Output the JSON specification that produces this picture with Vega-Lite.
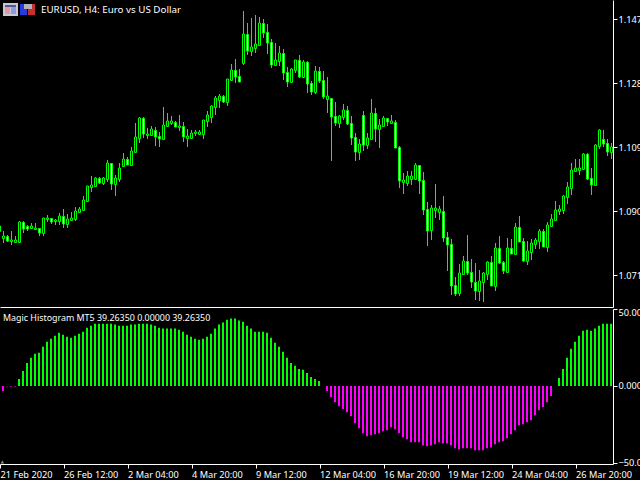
{"$schema":"https://vega.github.io/schema/vega-lite/v6.json","background":"#000000","padding":{"left":-1,"top":0,"right":0,"bottom":0},"autosize":{"type":"pad"},"spacing":2,"bounds":"flush","config":{"view":{"stroke":null},"font":"Noto Sans"},
"datasets":{"bars":[
{"i":-1,"o":1.0842,"h":1.0857,"l":1.0842,"c":1.0857,"v":0},
{"i":0,"o":1.0821,"h":1.0842,"l":1.0806,"c":1.0827,"v":-3.3},
{"i":1,"o":1.0827,"h":1.083,"l":1.0809,"c":1.0812,"v":-0.1},
{"i":2,"o":1.0812,"h":1.0842,"l":1.08,"c":1.0815,"v":-0.3},
{"i":3,"o":1.0809,"h":1.0827,"l":1.0809,"c":1.0815,"v":-0.3},
{"i":4,"o":1.0809,"h":1.0872,"l":1.0809,"c":1.0869,"v":4.6},
{"i":5,"o":1.0869,"h":1.0872,"l":1.0836,"c":1.0848,"v":9.8},
{"i":6,"o":1.0857,"h":1.086,"l":1.0842,"c":1.0848,"v":15},
{"i":7,"o":1.0851,"h":1.0866,"l":1.0848,"c":1.0857,"v":18.3},
{"i":8,"o":1.0848,"h":1.0866,"l":1.0845,"c":1.0851,"v":20.9},
{"i":9,"o":1.0851,"h":1.0851,"l":1.0827,"c":1.0836,"v":21.6},
{"i":10,"o":1.0836,"h":1.0881,"l":1.0827,"c":1.0881,"v":25.5},
{"i":11,"o":1.0878,"h":1.089,"l":1.0869,"c":1.0881,"v":28.8},
{"i":12,"o":1.0881,"h":1.0881,"l":1.0863,"c":1.0869,"v":30.7},
{"i":13,"o":1.0872,"h":1.0878,"l":1.086,"c":1.0875,"v":32.7},
{"i":14,"o":1.0872,"h":1.0896,"l":1.086,"c":1.0887,"v":34.6},
{"i":15,"o":1.0887,"h":1.0908,"l":1.0851,"c":1.0863,"v":33.3},
{"i":16,"o":1.0863,"h":1.0893,"l":1.0851,"c":1.0878,"v":32},
{"i":17,"o":1.0875,"h":1.0899,"l":1.0872,"c":1.0881,"v":31.4},
{"i":18,"o":1.0878,"h":1.0914,"l":1.0872,"c":1.0902,"v":32.7},
{"i":19,"o":1.0899,"h":1.0914,"l":1.0896,"c":1.0908,"v":34},
{"i":20,"o":1.0905,"h":1.0947,"l":1.0902,"c":1.0935,"v":35.3},
{"i":21,"o":1.0932,"h":1.0977,"l":1.0929,"c":1.0977,"v":37.9},
{"i":22,"o":1.0974,"h":1.1007,"l":1.0959,"c":1.098,"v":39.2},
{"i":23,"o":1.0977,"h":1.1004,"l":1.0974,"c":1.1001,"v":40.5},
{"i":24,"o":1.1001,"h":1.1004,"l":1.0983,"c":1.0986,"v":40.5},
{"i":25,"o":1.0986,"h":1.1004,"l":1.098,"c":1.1001,"v":40.5},
{"i":26,"o":1.0998,"h":1.1055,"l":1.0989,"c":1.1046,"v":40.5},
{"i":27,"o":1.1046,"h":1.1046,"l":1.0965,"c":1.0983,"v":40.5},
{"i":28,"o":1.0983,"h":1.101,"l":1.0947,"c":1.1001,"v":39.9},
{"i":29,"o":1.0998,"h":1.1046,"l":1.0989,"c":1.1031,"v":39.2},
{"i":30,"o":1.1037,"h":1.1076,"l":1.1034,"c":1.1058,"v":39.2},
{"i":31,"o":1.1058,"h":1.1064,"l":1.104,"c":1.104,"v":39.2},
{"i":32,"o":1.104,"h":1.1094,"l":1.1037,"c":1.1082,"v":39.9},
{"i":33,"o":1.1079,"h":1.1166,"l":1.1076,"c":1.1124,"v":39.9},
{"i":34,"o":1.1121,"h":1.1184,"l":1.1106,"c":1.1181,"v":40.5},
{"i":35,"o":1.1181,"h":1.1184,"l":1.1121,"c":1.1133,"v":40.5},
{"i":36,"o":1.113,"h":1.1151,"l":1.1118,"c":1.1133,"v":40.5},
{"i":37,"o":1.113,"h":1.1157,"l":1.1127,"c":1.1148,"v":39.9},
{"i":38,"o":1.1145,"h":1.1154,"l":1.1097,"c":1.1124,"v":39.2},
{"i":39,"o":1.1127,"h":1.1139,"l":1.1094,"c":1.1118,"v":37.9},
{"i":40,"o":1.1118,"h":1.1214,"l":1.1115,"c":1.116,"v":37.3},
{"i":41,"o":1.1157,"h":1.1196,"l":1.1157,"c":1.1172,"v":37.3},
{"i":42,"o":1.1166,"h":1.1187,"l":1.116,"c":1.1172,"v":37.3},
{"i":43,"o":1.1169,"h":1.1172,"l":1.1154,"c":1.1154,"v":37.3},
{"i":44,"o":1.1154,"h":1.119,"l":1.1142,"c":1.1157,"v":36.6},
{"i":45,"o":1.1157,"h":1.1169,"l":1.1109,"c":1.1124,"v":35.3},
{"i":46,"o":1.1121,"h":1.1148,"l":1.1094,"c":1.1127,"v":33.3},
{"i":47,"o":1.1121,"h":1.1145,"l":1.1121,"c":1.1136,"v":32},
{"i":48,"o":1.1136,"h":1.1145,"l":1.1127,"c":1.1139,"v":30.7},
{"i":49,"o":1.1133,"h":1.1145,"l":1.1133,"c":1.1139,"v":30},
{"i":50,"o":1.1133,"h":1.1175,"l":1.1118,"c":1.1175,"v":30.7},
{"i":51,"o":1.1172,"h":1.1202,"l":1.1154,"c":1.119,"v":32},
{"i":52,"o":1.1184,"h":1.122,"l":1.1166,"c":1.1217,"v":34},
{"i":53,"o":1.1214,"h":1.1247,"l":1.119,"c":1.1241,"v":37.3},
{"i":54,"o":1.1235,"h":1.1253,"l":1.1211,"c":1.1247,"v":39.9},
{"i":55,"o":1.1247,"h":1.125,"l":1.1226,"c":1.1229,"v":41.2},
{"i":56,"o":1.1229,"h":1.1298,"l":1.1217,"c":1.1298,"v":43.1},
{"i":57,"o":1.1295,"h":1.1343,"l":1.1292,"c":1.1325,"v":43.8},
{"i":58,"o":1.1325,"h":1.1358,"l":1.1286,"c":1.1304,"v":43.8},
{"i":59,"o":1.1307,"h":1.1328,"l":1.1289,"c":1.1289,"v":42.5},
{"i":60,"o":1.1346,"h":1.1502,"l":1.134,"c":1.1433,"v":41.8},
{"i":61,"o":1.1433,"h":1.1466,"l":1.137,"c":1.1382,"v":39.2},
{"i":62,"o":1.1382,"h":1.1481,"l":1.1367,"c":1.1394,"v":37.3},
{"i":63,"o":1.1391,"h":1.149,"l":1.1376,"c":1.1403,"v":35.3},
{"i":64,"o":1.14,"h":1.1484,"l":1.14,"c":1.1466,"v":35.3},
{"i":65,"o":1.1466,"h":1.1478,"l":1.1421,"c":1.1436,"v":35.3},
{"i":66,"o":1.1439,"h":1.1463,"l":1.1373,"c":1.1406,"v":34.6},
{"i":67,"o":1.1409,"h":1.1418,"l":1.1331,"c":1.134,"v":31.4},
{"i":68,"o":1.134,"h":1.1406,"l":1.1337,"c":1.1355,"v":28.1},
{"i":69,"o":1.1352,"h":1.1397,"l":1.1337,"c":1.1376,"v":25.5},
{"i":70,"o":1.1376,"h":1.1388,"l":1.1295,"c":1.1316,"v":22.2},
{"i":71,"o":1.1319,"h":1.1334,"l":1.1274,"c":1.1289,"v":18.3},
{"i":72,"o":1.1289,"h":1.1331,"l":1.1286,"c":1.1328,"v":15},
{"i":73,"o":1.1325,"h":1.1355,"l":1.1316,"c":1.1355,"v":13.1},
{"i":74,"o":1.1355,"h":1.137,"l":1.1301,"c":1.1304,"v":11.1},
{"i":75,"o":1.1304,"h":1.1355,"l":1.1304,"c":1.1349,"v":10.5},
{"i":76,"o":1.1349,"h":1.1352,"l":1.1256,"c":1.1283,"v":8.5},
{"i":77,"o":1.1286,"h":1.1292,"l":1.125,"c":1.1259,"v":5.9},
{"i":78,"o":1.1259,"h":1.1337,"l":1.1253,"c":1.1322,"v":4.6},
{"i":79,"o":1.1322,"h":1.1334,"l":1.1286,"c":1.1292,"v":3.3},
{"i":80,"o":1.1295,"h":1.1322,"l":1.1238,"c":1.1244,"v":0},
{"i":81,"o":1.1238,"h":1.1304,"l":1.1196,"c":1.1247,"v":-3.3},
{"i":82,"o":1.1241,"h":1.1241,"l":1.1052,"c":1.1184,"v":-7.2},
{"i":83,"o":1.1187,"h":1.1229,"l":1.1157,"c":1.1166,"v":-10.5},
{"i":84,"o":1.1166,"h":1.119,"l":1.1151,"c":1.1187,"v":-13.1},
{"i":85,"o":1.1184,"h":1.1223,"l":1.1175,"c":1.1205,"v":-15},
{"i":86,"o":1.1205,"h":1.1217,"l":1.116,"c":1.1163,"v":-17},
{"i":87,"o":1.1166,"h":1.1187,"l":1.11,"c":1.1121,"v":-19.6},
{"i":88,"o":1.1124,"h":1.1136,"l":1.1052,"c":1.1079,"v":-24.2},
{"i":89,"o":1.1079,"h":1.1118,"l":1.1055,"c":1.1103,"v":-27.5},
{"i":90,"o":1.119,"h":1.1202,"l":1.1082,"c":1.11,"v":-30.7},
{"i":91,"o":1.11,"h":1.1136,"l":1.1088,"c":1.1121,"v":-32.7},
{"i":92,"o":1.1118,"h":1.1238,"l":1.1115,"c":1.1196,"v":-32},
{"i":93,"o":1.1196,"h":1.1211,"l":1.1109,"c":1.1148,"v":-31.4},
{"i":94,"o":1.1148,"h":1.1178,"l":1.1091,"c":1.116,"v":-30.7},
{"i":95,"o":1.1157,"h":1.1187,"l":1.1157,"c":1.1181,"v":-29.4},
{"i":96,"o":1.1181,"h":1.1181,"l":1.1157,"c":1.1169,"v":-28.8},
{"i":97,"o":1.1166,"h":1.119,"l":1.1163,"c":1.1172,"v":-26.8},
{"i":98,"o":1.1169,"h":1.1175,"l":1.1091,"c":1.1091,"v":-28.1},
{"i":99,"o":1.1094,"h":1.1097,"l":1.0971,"c":1.0992,"v":-30.7},
{"i":100,"o":1.0989,"h":1.1016,"l":1.0953,"c":1.0995,"v":-33.3},
{"i":101,"o":1.0986,"h":1.1022,"l":1.0977,"c":1.1007,"v":-34.6},
{"i":102,"o":1.0998,"h":1.1022,"l":1.098,"c":1.1007,"v":-36.6},
{"i":103,"o":1.0998,"h":1.1046,"l":1.0995,"c":1.104,"v":-36.6},
{"i":104,"o":1.104,"h":1.104,"l":1.0953,"c":1.0992,"v":-36.6},
{"i":105,"o":1.0995,"h":1.1019,"l":1.089,"c":1.0905,"v":-38.6},
{"i":106,"o":1.0908,"h":1.0929,"l":1.0797,"c":1.0842,"v":-39.2},
{"i":107,"o":1.0845,"h":1.092,"l":1.0815,"c":1.0911,"v":-38.6},
{"i":108,"o":1.0905,"h":1.0983,"l":1.0881,"c":1.0911,"v":-37.9},
{"i":109,"o":1.0899,"h":1.0917,"l":1.0875,"c":1.0908,"v":-36.6},
{"i":110,"o":1.0902,"h":1.0947,"l":1.0809,"c":1.0821,"v":-37.3},
{"i":111,"o":1.0824,"h":1.0839,"l":1.0722,"c":1.08,"v":-37.3},
{"i":112,"o":1.0803,"h":1.0818,"l":1.065,"c":1.0677,"v":-38.6},
{"i":113,"o":1.068,"h":1.0704,"l":1.0647,"c":1.0653,"v":-40.5},
{"i":114,"o":1.0656,"h":1.0743,"l":1.0647,"c":1.0716,"v":-41.2},
{"i":115,"o":1.0713,"h":1.0767,"l":1.071,"c":1.0752,"v":-40.5},
{"i":116,"o":1.0752,"h":1.083,"l":1.071,"c":1.0716,"v":-40.5},
{"i":117,"o":1.0719,"h":1.0758,"l":1.0671,"c":1.0689,"v":-40.5},
{"i":118,"o":1.0689,"h":1.0746,"l":1.0635,"c":1.0662,"v":-41.8},
{"i":119,"o":1.0662,"h":1.0725,"l":1.0632,"c":1.0692,"v":-41.8},
{"i":120,"o":1.0689,"h":1.0719,"l":1.0629,"c":1.0716,"v":-41.8},
{"i":121,"o":1.0713,"h":1.0752,"l":1.0695,"c":1.0749,"v":-40.5},
{"i":122,"o":1.0749,"h":1.0767,"l":1.0677,"c":1.0677,"v":-39.9},
{"i":123,"o":1.0677,"h":1.0806,"l":1.0662,"c":1.0791,"v":-37.9},
{"i":124,"o":1.0791,"h":1.0827,"l":1.0743,"c":1.0746,"v":-36.6},
{"i":125,"o":1.0749,"h":1.0752,"l":1.0713,"c":1.0722,"v":-35.9},
{"i":126,"o":1.0719,"h":1.0821,"l":1.0719,"c":1.0791,"v":-34},
{"i":127,"o":1.0791,"h":1.0818,"l":1.0773,"c":1.0773,"v":-31.4},
{"i":128,"o":1.0773,"h":1.0866,"l":1.0773,"c":1.0854,"v":-28.8},
{"i":129,"o":1.0854,"h":1.0887,"l":1.0809,"c":1.0809,"v":-25.5},
{"i":130,"o":1.0812,"h":1.0821,"l":1.0749,"c":1.0752,"v":-24.8},
{"i":131,"o":1.0752,"h":1.0812,"l":1.074,"c":1.0782,"v":-23.5},
{"i":132,"o":1.0779,"h":1.0818,"l":1.0755,"c":1.0806,"v":-22.2},
{"i":133,"o":1.0803,"h":1.0821,"l":1.0788,"c":1.0815,"v":-19},
{"i":134,"o":1.0812,"h":1.0848,"l":1.0788,"c":1.0842,"v":-15.7},
{"i":135,"o":1.0842,"h":1.0848,"l":1.0794,"c":1.0794,"v":-13.7},
{"i":136,"o":1.0794,"h":1.0869,"l":1.0779,"c":1.086,"v":-10.5},
{"i":137,"o":1.0857,"h":1.0893,"l":1.0854,"c":1.0878,"v":-6.5},
{"i":138,"o":1.0875,"h":1.0932,"l":1.0872,"c":1.0905,"v":0},
{"i":139,"o":1.0902,"h":1.092,"l":1.089,"c":1.0908,"v":5.2},
{"i":140,"o":1.0905,"h":1.095,"l":1.0893,"c":1.0947,"v":11.1},
{"i":141,"o":1.0944,"h":1.0989,"l":1.0923,"c":1.0974,"v":18.3},
{"i":142,"o":1.0971,"h":1.1046,"l":1.095,"c":1.1025,"v":24.2},
{"i":143,"o":1.1022,"h":1.1058,"l":1.1019,"c":1.1031,"v":28.8},
{"i":144,"o":1.1025,"h":1.1058,"l":1.101,"c":1.1031,"v":32.7},
{"i":145,"o":1.1028,"h":1.1076,"l":1.1025,"c":1.1073,"v":35.9},
{"i":146,"o":1.1073,"h":1.1076,"l":1.0995,"c":1.0998,"v":36.6},
{"i":147,"o":1.1001,"h":1.1031,"l":1.095,"c":1.098,"v":35.9},
{"i":148,"o":1.098,"h":1.1103,"l":1.0977,"c":1.11,"v":37.3},
{"i":149,"o":1.1097,"h":1.1148,"l":1.1088,"c":1.1145,"v":39.2},
{"i":150,"o":1.1118,"h":1.1145,"l":1.1094,"c":1.1103,"v":40.5},
{"i":151,"o":1.1106,"h":1.1118,"l":1.1067,"c":1.1079,"v":40.5},
{"i":152,"o":1.1079,"h":1.1106,"l":1.1058,"c":1.1094,"v":40.5}
],
"icons":[
{"part":"frame","a":-0.125,"b":3.625,"p":1.1526,"q":1.1487},
{"part":"head","a":0.375,"b":3.125,"p":1.152,"q":1.1514},
{"part":"rowsA","a":0.375,"b":1.625,"p":1.1514,"q":1.1493},
{"part":"rowsB","a":1.875,"b":3.125,"p":1.1514,"q":1.1493},
{"part":"blue","a":4.125,"b":5.875,"p":1.1523,"q":1.149},
{"part":"red","a":6.125,"b":7.875,"p":1.1523,"q":1.149},
{"part":"clip","a":5.125,"b":7.125,"p":1.1523,"q":1.1508}
],
"captions":[{"panel":"price","t":"EURUSD, H4:  Euro vs US Dollar","a":9.375,"p":1.1505},{"panel":"hist","t":"Magic Histogram MT5 39.26350 0.00000 39.26350","a":-0.125,"p":44}],
"shift":[{"a":-0.3,"p":-49.3}]},
"vconcat":[
{"width":613,"height":307,"encoding":{"x":{"field":"i","type":"quantitative","scale":{"domain":[-0.875,152.375],"nice":false,"zero":false,"padding":0},"axis":{"title":null,"labels":false,"ticks":false,"grid":false,"domainColor":"#ffffff"}}},
"layer":[
{"data":{"name":"bars"},"mark":{"type":"rule","stroke":"#00ff00","strokeWidth":1,"clip":true},"encoding":{"y":{"field":"l","type":"quantitative","scale":{"domain":[1.0614,1.1535],"nice":false,"zero":false},"axis":{"orient":"right","title":null,"grid":false,"values":[1.071,1.0806,1.0902,1.0998,1.1094,1.119,1.1286,1.1382,1.1478],"format":".5f","tickColor":"#ffffff","tickSize":4,"domainColor":"#ffffff","labelColor":"#ffffff","labelFont":"Noto Sans","labelFontSize":9.2,"labelPadding":1}},"y2":{"field":"h"}}},
{"data":{"name":"bars"},"mark":{"type":"bar","size":2,"stroke":"#00ff00","strokeWidth":1,"clip":true,"yOffset":0.5},"encoding":{"y":{"field":"o","type":"quantitative"},"y2":{"field":"c"},"fill":{"condition":{"test":"datum.c<datum.o","value":"#ffffff"},"value":"#000000"}}},
{"data":{"name":"icons"},"mark":{"type":"rect"},"encoding":{"x":{"field":"a","type":"quantitative"},"x2":{"field":"b"},"y":{"field":"p","type":"quantitative"},"y2":{"field":"q"},"color":{"field":"part","type":"nominal","legend":null,"scale":{"domain":["frame","head","rowsA","rowsB","blue","red","clip"],"range":["#c8c8d4","#4a5a9a","#e09a9a","#8c9ae0","#2a3ae0","#c83030","#b4b4b4"]}}}},
{"data":{"name":"captions"},"transform":[{"filter":"datum.panel=='price'"}],"mark":{"type":"text","align":"left","baseline":"middle","fill":"#ffffff","font":"Noto Sans","fontSize":9.8},"encoding":{"x":{"field":"a","type":"quantitative"},"y":{"field":"p","type":"quantitative"},"text":{"field":"t","type":"nominal"}}}
]},
{"width":613,"height":155,"encoding":{"x":{"field":"i","type":"quantitative","scale":{"domain":[-0.875,152.375],"nice":false,"zero":false,"padding":0},"axis":{"title":null,"grid":false,"values":[-0.875,15,31,47,63,79,95,111,127,143],"labelExpr":"['21 Feb 2020','26 Feb 12:00','2 Mar 04:00','4 Mar 20:00','9 Mar 12:00','12 Mar 04:00','16 Mar 20:00','19 Mar 12:00','24 Mar 04:00','26 Mar 20:00'][floor((datum.value+1)/16)]","labelAlign":"left","labelBaseline":"top","labelColor":"#ffffff","labelFont":"Noto Sans","labelFontSize":9.2,"labelOverlap":false,"labelBound":false,"labelFlush":false,"labelPadding":2,"tickColor":"#ffffff","tickSize":4,"domainColor":"#ffffff"}}},
"layer":[
{"data":{"values":[{"z":0}]},"mark":{"type":"rule","stroke":"#a060b0","strokeWidth":1,"strokeDash":[3,3],"yOffset":0.5},"encoding":{"x":{"datum":-0.875,"type":"quantitative"},"x2":{"datum":152.375},"y":{"field":"z","type":"quantitative","scale":{"domain":[-50.65,50],"nice":false,"zero":false},"axis":{"orient":"right","title":null,"grid":false,"values":[-50,0,50],"format":".5f","labelFlush":true,"labelFlushOffset":1,"tickColor":"#ffffff","tickSize":4,"domainColor":"#ffffff","labelColor":"#ffffff","labelFont":"Noto Sans","labelFontSize":9.2,"labelPadding":1}}}},
{"data":{"name":"bars"},"mark":{"type":"bar","size":2,"xOffset":-0.5,"clip":true},"encoding":{"y":{"field":"v","type":"quantitative","stack":null},"y2":{"datum":0},"fill":{"condition":{"test":"datum.v>=0","value":"#00ff00"},"value":"#ff00ff"}}},
{"data":{"values":[{"z":50}]},"mark":{"type":"rule","stroke":"#ffffff","strokeWidth":1,"yOffset":0.5},"encoding":{"x":{"datum":-0.875,"type":"quantitative"},"x2":{"datum":152.375},"y":{"field":"z","type":"quantitative"}}},
{"data":{"name":"shift"},"mark":{"type":"point","shape":"triangle-up","filled":true,"fill":"#8a94a6","size":12,"opacity":1},"encoding":{"x":{"field":"a","type":"quantitative"},"y":{"field":"p","type":"quantitative"}}},
{"data":{"name":"captions"},"transform":[{"filter":"datum.panel=='hist'"}],"mark":{"type":"text","align":"left","baseline":"middle","fill":"#ffffff","font":"Noto Sans","fontSize":8.9},"encoding":{"x":{"field":"a","type":"quantitative"},"y":{"field":"p","type":"quantitative"},"text":{"field":"t","type":"nominal"}}}
]}
]}
